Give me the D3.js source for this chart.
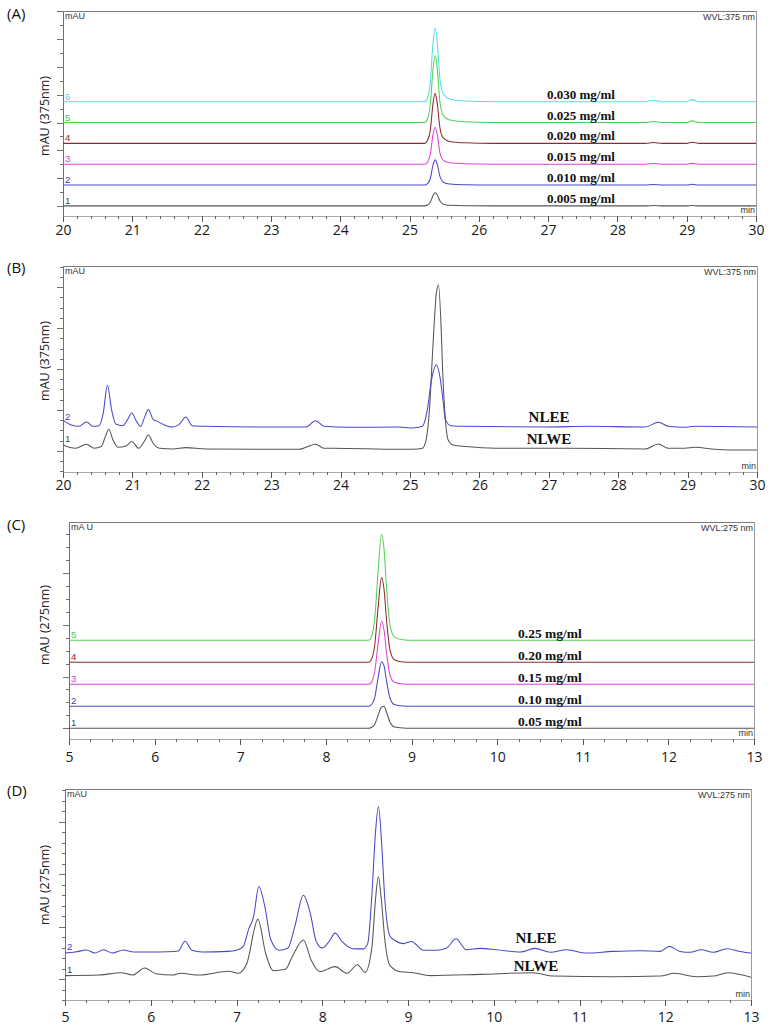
<!DOCTYPE html>
<html><head><meta charset="utf-8">
<script src="https://cdn.jsdelivr.net/npm/d3@7"></script>
<style>body{margin:0;background:#fff} svg{display:block}</style>
</head><body>
<svg id="chart" width="772" height="1033"></svg>
<script>
// ================= DATA =================
// tick labels
const ticksAB = [20, 21, 22, 23, 24, 25, 26, 27, 28, 29, 30];
const ticksCD = [5, 6, 7, 8, 9, 10, 11, 12, 13];

// ---- Panel A: standard solutions at 375 nm (signal above each trace baseline, mAU) ----
const timeA = [20, 25.22, 25.26, 25.30, 25.34, 25.37, 25.40, 25.44, 25.49, 25.58, 25.80, 26.20, 28.40, 28.52, 28.65, 29.00, 29.08, 29.18, 30];
const std1A = [0, 0, 0.06, 0.26, 0.75, 0.94, 0.80, 0.35, 0.12, 0.04, 0.01, 0, 0, 0.03, 0, 0, 0.03, 0, 0];
const std2A = [0, 0, 0.10, 0.47, 1.45, 1.81, 1.50, 0.60, 0.20, 0.07, 0.02, 0, 0, 0.04, 0, 0, 0.05, 0, 0];
const std3A = [0, 0, 0.15, 0.70, 2.15, 2.66, 2.15, 0.80, 0.28, 0.10, 0.03, 0, 0, 0.05, 0, 0, 0.06, 0, 0];
const std4A = [0, 0, 0.20, 0.94, 2.90, 3.60, 2.90, 1.10, 0.37, 0.14, 0.04, 0, 0, 0.06, 0, 0, 0.08, 0, 0];
const std5A = [0, 0, 0.27, 1.26, 3.90, 4.82, 3.90, 1.46, 0.50, 0.18, 0.05, 0, 0, 0.08, 0, 0, 0.12, 0, 0];
const std6A = [0, 0, 0.30, 1.40, 4.30, 5.33, 4.30, 1.60, 0.55, 0.20, 0.05, 0, 0, 0.10, 0, 0, 0.15, 0, 0];
const offsetsA = [1, 2.5, 4, 5.5, 7, 8.5];
const concA = ["0.005 mg/ml", "0.010 mg/ml", "0.015 mg/ml", "0.020 mg/ml", "0.025 mg/ml", "0.030 mg/ml"];

// ---- Panel B: extracts at 375 nm ([time, signal]) ----
const nlweB = [[20,0.39],[20.18,0.07],[20.34,0.46],[20.45,0.07],[20.55,0.23],[20.61,1.2],[20.66,1.92],[20.72,0.88],[20.79,0.16],[20.91,0.29],[20.99,0.72],[21.09,0.07],[21.17,0.72],[21.23,1.37],[21.30,0.55],[21.39,0.07],[21.58,0],[21.77,0.13],[22.06,0],[23.40,-0.03],[23.64,0.46],[23.76,0.07],[23.88,0.07],[24.84,-0.03],[25.04,-0.03],[25.18,0.07],[25.23,0.8],[25.28,3.8],[25.33,10.0],[25.38,15.2],[25.41,16.0],[25.45,11.6],[25.47,7.7],[25.50,3.8],[25.55,0.88],[25.62,0.39],[25.81,0.23],[26.24,0.07],[27.25,0.07],[28.39,0],[28.58,0.49],[28.72,0.07],[28.96,0.07],[29.11,0.16],[29.35,0],[29.64,-0.1],[30,-0.1]];
const nleeB = [[20,0.65],[20.11,0.23],[20.23,0.07],[20.34,0.49],[20.43,0.07],[20.52,0.13],[20.58,1.37],[20.64,4.07],[20.70,1.7],[20.76,0.29],[20.86,0.13],[20.93,0.72],[20.99,1.37],[21.06,0.55],[21.12,0.07],[21.18,1.04],[21.23,1.7],[21.30,0.72],[21.36,0.55],[21.45,0.23],[21.57,0],[21.67,0.23],[21.77,0.98],[21.86,0.13],[22.05,0.07],[22.92,0],[23.50,0],[23.64,0.62],[23.76,0.07],[24.12,-0.03],[24.84,0],[25.04,-0.1],[25.18,0.07],[25.21,0.5],[25.25,1.7],[25.31,4.6],[25.38,6.08],[25.43,4.94],[25.48,2.34],[25.51,0.72],[25.59,0.13],[25.80,0.07],[26.95,0],[27.57,0.07],[28.39,0],[28.58,0.46],[28.72,0.07],[28.96,-0.03],[29.11,0.07],[30,0]];
const offsetsB = [0.2, 2.34];
const namesB = ["NLWE", "NLEE"];

// ---- Panel C: standard solutions at 275 nm ----
const timeC = [5, 8.50, 8.53, 8.57, 8.61, 8.65, 8.68, 8.71, 8.75, 8.80, 8.90, 9.00, 13];
const std1C = [0, 0, 0.06, 0.30, 1.00, 1.65, 1.70, 1.20, 0.45, 0.10, 0.02, 0, 0];
const std2C = [0, 0, 0.10, 0.65, 2.20, 3.45, 3.10, 1.90, 0.60, 0.13, 0.02, 0, 0];
const std3C = [0, 0, 0.15, 0.97, 3.15, 4.87, 4.15, 2.35, 0.70, 0.15, 0.02, 0, 0];
const std4C = [0, 0, 0.20, 1.30, 4.25, 6.55, 5.60, 3.15, 0.92, 0.20, 0.03, 0, 0];
const std5C = [0, 0, 0.25, 1.64, 5.30, 8.20, 7.00, 3.90, 1.15, 0.25, 0.04, 0, 0];
const offsetsC = [0, 1.7, 3.4, 5.1, 6.8];
const concC = ["0.05 mg/ml", "0.10 mg/ml", "0.15 mg/ml", "0.20 mg/ml", "0.25 mg/ml"];

// ---- Panel D: extracts at 275 nm ----
const nlweD = [[5.00,-0.06],[5.40,0],[5.65,0.22],[5.79,0],[5.93,0.67],[6.06,0.13],[6.25,0],[6.35,0.16],[6.56,0],[6.91,0.35],[7.02,0.16],[7.12,1.1],[7.25,5.3],[7.34,2.06],[7.43,0.41],[7.57,0.54],[7.65,1.75],[7.78,3.33],[7.87,1.43],[7.97,0.32],[8.15,0.8],[8.29,0.16],[8.41,0.98],[8.50,0.25],[8.58,2.7],[8.62,7.1],[8.654,9.37],[8.69,7.1],[8.73,3.33],[8.79,0.9],[8.91,0.32],[9.06,0.22],[9.26,-0.06],[9.84,0.06],[10.46,0.22],[10.70,-0.1],[11.39,-0.16],[11.94,-0.1],[12.11,0.16],[12.36,-0.16],[12.56,-0.1],[12.73,0.22],[13.00,-0.22]];
const nleeD = [[5.00,-0.1],[5.12,0],[5.25,0.19],[5.35,-0.1],[5.45,0.22],[5.55,-0.1],[5.68,0.19],[5.80,0],[6.00,0],[6.20,0.03],[6.32,0.1],[6.40,1.02],[6.48,0.16],[6.60,0],[6.90,0.06],[7.00,0.16],[7.08,0.54],[7.14,2.13],[7.20,3.4],[7.26,6.25],[7.33,4.35],[7.40,1.17],[7.50,0.16],[7.60,0.38],[7.68,2.44],[7.78,5.4],[7.86,3.7],[7.93,1.0],[8.00,0.38],[8.08,1.0],[8.15,1.8],[8.23,1.0],[8.35,0.32],[8.48,0.3],[8.53,0.8],[8.58,5.6],[8.62,11.3],[8.655,13.87],[8.69,10.7],[8.73,5.0],[8.79,1.5],[8.85,1.1],[8.945,0.8],[9.04,1.0],[9.18,0.16],[9.33,0.16],[9.45,0.38],[9.56,1.27],[9.68,0.22],[9.84,0.35],[10.03,0.22],[10.31,0],[10.48,0.35],[10.66,-0.03],[10.85,0.22],[11.08,-0.1],[11.39,0.06],[11.71,0.13],[11.94,0.06],[12.05,0.54],[12.17,0.06],[12.29,-0.03],[12.42,0.22],[12.56,-0.03],[12.72,0.32],[12.87,0.06],[13.00,-0.1]];
const offsetsD = [0.38, 2.57];
const namesD = ["NLWE", "NLEE"];

// ================= STYLE =================
const colGray = "#555555", colBlue = "#4848c8", colMag = "#dd44dd", colBrown = "#8b2d2d", colGreen = "#55d055", colCyan = "#55dde6";
const numCol = ["#444444", "#3a3ab8", "#d633d6", "#992222", "#3fc83f", "#45d6e0"];

const svg = d3.select("#chart");

function drawPanel(o) {
  const g = svg.append("g");
  const x = d3.scaleLinear().domain(o.xDomain).range(o.xRange);
  const y = d3.scaleLinear().domain(o.yDomain).range(o.yRange);
  const [x0, x1] = o.xRange;
  const [yb, yt] = o.yRange;

  // frame (top and right)
  g.append("line").attr("x1", x0).attr("x2", x1).attr("y1", yt).attr("y2", yt)
    .attr("stroke", "#7a7a7a").attr("shape-rendering", "crispEdges");
  g.append("line").attr("x1", x1).attr("x2", x1).attr("y1", yt).attr("y2", yb)
    .attr("stroke", "#9a9a9a").attr("shape-rendering", "crispEdges");

  // x axis: minor ticks
  g.append("g").attr("transform", `translate(0,${yb})`)
    .call(d3.axisBottom(x).tickValues(o.xMinor).tickSize(3).tickFormat("").tickSizeOuter(0))
    .call(s => { s.select(".domain").attr("stroke", "#a8a8a8"); s.selectAll(".tick line").attr("stroke", "#666"); })
    .attr("shape-rendering", "crispEdges");
  // x axis: major ticks + labels
  g.append("g").attr("transform", `translate(0,${yb})`)
    .call(d3.axisBottom(x).tickValues(o.xTicks).tickSize(6).tickPadding(o.tickPad).tickSizeOuter(0))
    .call(s => {
      s.select(".domain").remove();
      s.selectAll(".tick line").attr("stroke", "#555");
      s.selectAll(".tick text").attr("font-family", "'Open Sans', sans-serif").attr("font-size", 14).attr("fill", "#1a1a1a");
    })
    .attr("shape-rendering", "crispEdges");

  // y axis: minor and major ticks, no labels
  g.append("g").attr("transform", `translate(${x0},0)`)
    .call(d3.axisLeft(y).tickValues(o.yMinor).tickSize(3).tickFormat("").tickSizeOuter(0))
    .call(s => { s.select(".domain").attr("stroke", "#707070"); s.selectAll(".tick line").attr("stroke", "#707070"); })
    .attr("shape-rendering", "crispEdges");
  g.append("g").attr("transform", `translate(${x0},0)`)
    .call(d3.axisLeft(y).tickValues(o.yMajor).tickSize(6).tickFormat("").tickSizeOuter(0))
    .call(s => { s.select(".domain").remove(); s.selectAll(".tick line").attr("stroke", "#707070"); })
    .attr("shape-rendering", "crispEdges");

  // traces
  const line = off => d3.line().x(d => x(d[0])).y(d => y(d[1] + off)).curve(d3.curveMonotoneX);
  o.traces.forEach((t, i) => {
    g.append("path").datum(t.data).attr("d", line(t.offset)).attr("fill", "none")
      .attr("stroke", t.color).attr("stroke-width", 1.05).attr("stroke-linejoin", "round");
    // trace number
    g.append("text").attr("x", x0 + 2).attr("y", y(t.offset) + o.numDy)
      .attr("font-family", "'Liberation Sans', Arial, sans-serif").attr("font-size", 9.5)
      .attr("fill", numCol[t.numColor]).text(i + 1);
  });

  // trace annotations
  o.labels.forEach(l => {
    g.append("text").attr("x", l.x).attr("y", y(l.offset) + l.dy)
      .attr("text-anchor", l.anchor).attr("font-family", "'Liberation Serif', 'Times New Roman', serif")
      .attr("font-weight", "bold").attr("font-size", l.size).attr("fill", "#111").text(l.text);
  });

  // instrument texts
  const small = (tx, ty, txt, anchor) => g.append("text").attr("x", tx).attr("y", ty).attr("text-anchor", anchor)
    .attr("font-family", "'Liberation Sans', Arial, sans-serif").attr("font-size", 9).attr("fill", "#333").text(txt);
  small(x0 + 2, yt + 8, o.mau, "start");
  small(x1 - 1, yt + 8.5, o.wvl, "end");
  small(x1 - 1, yb - 3, "min", "end");

  // y title
  g.append("text").attr("transform", `translate(${o.titleX},${o.titleY}) rotate(-90)`)
    .attr("text-anchor", "middle").attr("dominant-baseline", "central")
    .attr("font-family", "'Open Sans', sans-serif").attr("font-size", 12.5).attr("fill", "#222").text(o.yTitle);

  // panel letter
  svg.append("text").attr("x", 7).attr("y", o.letterY)
    .attr("font-family", "'Open Sans', sans-serif").attr("font-size", 15).attr("fill", "#111").text(o.letter);
}

const intRange = (a, b) => d3.range(Math.ceil(a), Math.floor(b) + 1);

// ---------- Panel A ----------
(function () {
  const series = [std1A, std2A, std3A, std4A, std5A, std6A];
  const cols = [colGray, colBlue, colMag, colBrown, colGreen, colCyan];
  const yDom = [0.27, 15.03];
  drawPanel({
    xDomain: [20, 30], xRange: [63, 756], yDomain: yDom, yRange: [216, 11],
    xTicks: ticksAB, xMinor: d3.range(20, 30.001, 0.2), tickPad: 3,
    yMinor: intRange(1, 15), yMajor: [1, 3, 5, 7, 9, 11, 13, 15],
    traces: series.map((s, i) => ({ data: d3.zip(timeA, s), offset: offsetsA[i], color: cols[i], numColor: i })),
    numDy: -2,
    labels: concA.map((c, i) => ({ text: c, x: 547, offset: offsetsA[i], dy: -3, anchor: "start", size: 13 })),
    mau: "mAU", wvl: "WVL:375 nm", yTitle: "mAU (375nm)", titleX: 44, titleY: 116,
    letter: "(A)", letterY: 19
  });
})();

// ---------- Panel B ----------
(function () {
  drawPanel({
    xDomain: [20, 30], xRange: [63, 757], yDomain: [-2.05, 18.05], yRange: [472, 266],
    xTicks: ticksAB, xMinor: d3.range(20, 30.001, 0.2), tickPad: 2,
    yMinor: intRange(-2, 18), yMajor: [0, 4, 8, 12, 16],
    traces: [
      { data: nlweB, offset: offsetsB[0], color: colGray, numColor: 0 },
      { data: nleeB, offset: offsetsB[1], color: colBlue, numColor: 1 }
    ],
    numDy: -7,
    labels: [
      { text: namesB[1], x: 549, offset: offsetsB[1], dy: -5.5, anchor: "middle", size: 15 },
      { text: namesB[0], x: 549, offset: offsetsB[0], dy: -4.7, anchor: "middle", size: 15 }
    ],
    mau: "mAU", wvl: "WVL:375 nm", yTitle: "mAU (375nm)", titleX: 44, titleY: 361,
    letter: "(B)", letterY: 273
  });
})();

// ---------- Panel C ----------
(function () {
  const series = [std1C, std2C, std3C, std4C, std5C];
  const cols = [colGray, colBlue, colMag, colBrown, colGreen];
  drawPanel({
    xDomain: [5, 13], xRange: [69, 754], yDomain: [-0.83, 15.95], yRange: [739, 522],
    xTicks: ticksCD, xMinor: d3.range(5, 13.001, 0.25), tickPad: 7,
    yMinor: intRange(0, 15), yMajor: [0, 4, 8, 12],
    traces: series.map((s, i) => ({ data: d3.zip(timeC, s), offset: offsetsC[i], color: cols[i], numColor: i })),
    numDy: -2,
    labels: concC.map((c, i) => ({ text: c, x: 518, offset: offsetsC[i], dy: -2.2, anchor: "start", size: 13.5 })),
    mau: "mA U", wvl: "WVL:275 nm", yTitle: "mAU (275nm)", titleX: 44, titleY: 625,
    letter: "(C)", letterY: 530
  });
})();

// ---------- Panel D ----------
(function () {
  drawPanel({
    xDomain: [5, 13], xRange: [65, 751], yDomain: [-2.0, 18.1], yRange: [1000, 789],
    xTicks: ticksCD, xMinor: d3.range(5, 13.001, 0.25), tickPad: 6,
    yMinor: intRange(-2, 18), yMajor: [0, 5, 10, 15],
    traces: [
      { data: nlweD, offset: offsetsD[0], color: colGray, numColor: 0 },
      { data: nleeD, offset: offsetsD[1], color: colBlue, numColor: 1 }
    ],
    numDy: -2,
    labels: [
      { text: namesD[1], x: 536, offset: offsetsD[1], dy: -9, anchor: "middle", size: 15 },
      { text: namesD[0], x: 536, offset: offsetsD[0], dy: -4, anchor: "middle", size: 15 }
    ],
    mau: "mAU", wvl: "WVL:275 nm", yTitle: "mAU (275nm)", titleX: 44, titleY: 885,
    letter: "(D)", letterY: 796
  });
})();
</script>
</body></html>
